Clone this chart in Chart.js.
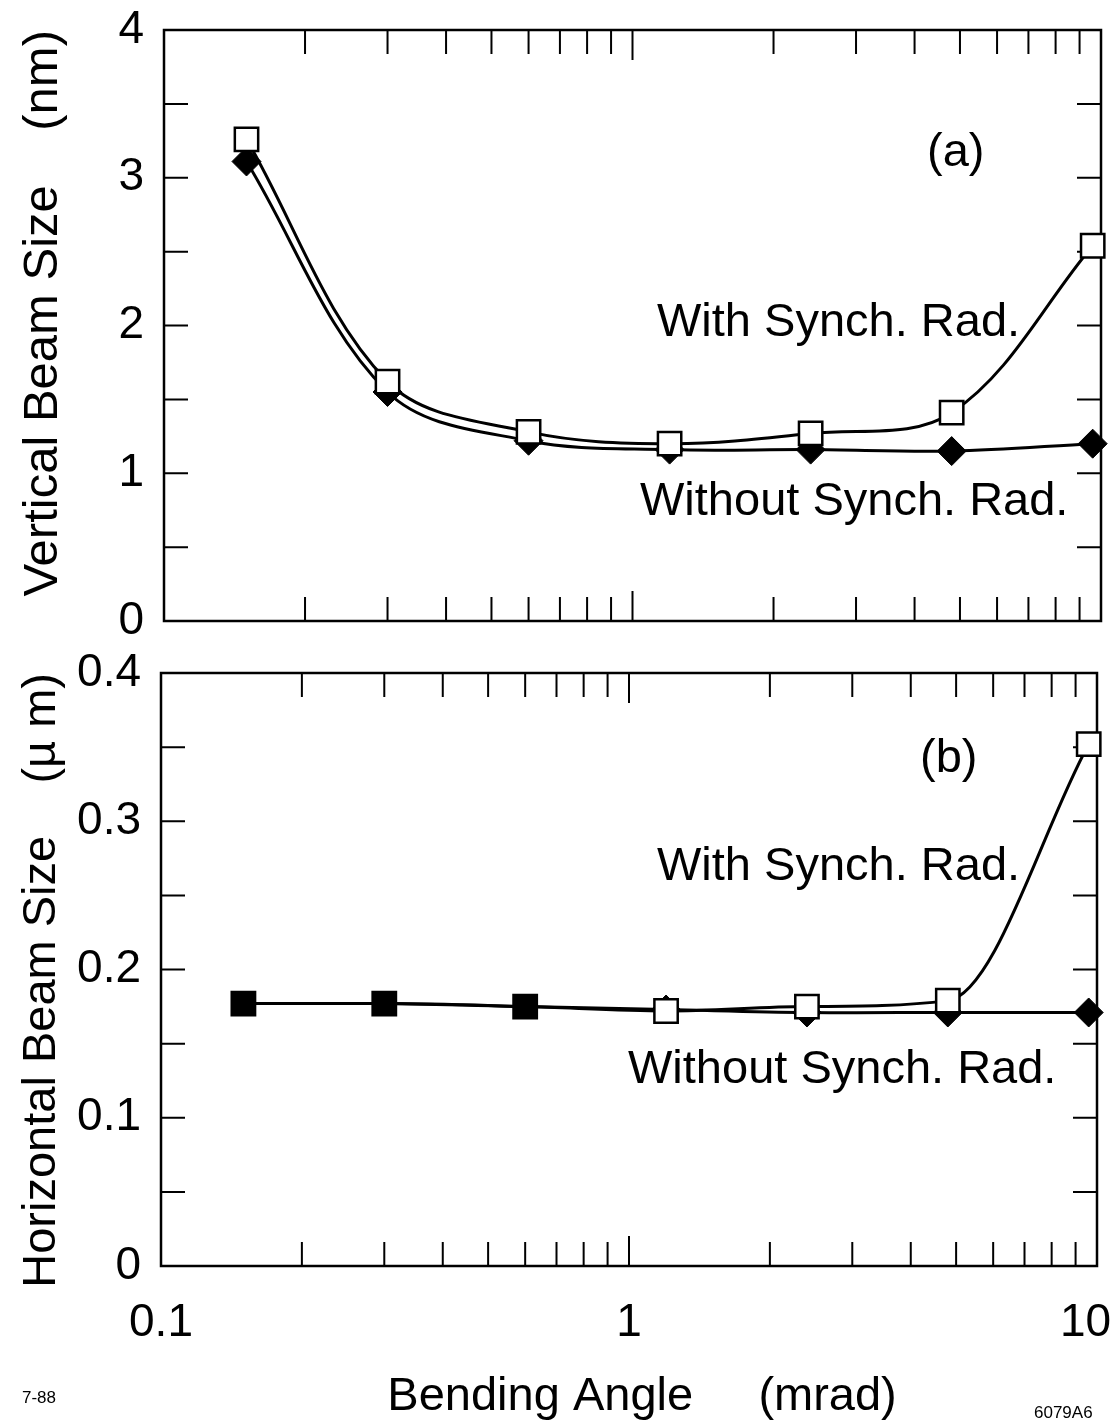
<!DOCTYPE html>
<html>
<head>
<meta charset="utf-8">
<script src="https://cdn.jsdelivr.net/npm/chart.js@4.4.1/dist/chart.umd.min.js"></script>
<style>
  html, body { margin: 0; padding: 0; background: #fff; }
  #wrap { position: relative; width: 1113px; height: 1425px; }
  canvas { position: absolute; left: 0; top: 0; }
</style>
</head>
<body>
<div id="wrap">
  <canvas id="chartA" width="1113" height="1425"></canvas>
  <canvas id="chartB" width="1113" height="1425"></canvas>
</div>
<script>
// Data
const bendingAngle  = [0.15, 0.3, 0.6, 1.2, 2.4, 4.8, 9.6];          // mrad
const vertWithSR    = [3.26, 1.62, 1.28, 1.20, 1.27, 1.41, 2.54];     // nm
const vertWithoutSR = [3.11, 1.55, 1.22, 1.16, 1.16, 1.15, 1.20];     // nm
const horzWithSR    = [0.177, 0.177, 0.175, 0.172, 0.175, 0.179, 0.352]; // um
const horzWithoutSR = [0.177, 0.177, 0.175, 0.173, 0.171, 0.171, 0.171]; // um

// Tick marks / labels
const xTickLabels = [0.1, 1, 10];
const xTickMarks  = [0.2, 0.3, 0.4, 0.5, 0.6, 0.7, 0.8, 0.9, 1, 2, 3, 4, 5, 6, 7, 8, 9];
const yTicksA     = [0.5, 1, 1.5, 2, 2.5, 3, 3.5];
const yTicksB     = [0.05, 0.1, 0.15, 0.2, 0.25, 0.3, 0.35];

const FONT = '"Liberation Sans", Arial, Helvetica, sans-serif';

// box with inward ticks on all four sides + free text
const framePlugin = {
  id: 'frame',
  beforeDatasetsDraw(chart, args, opts) {
    const { ctx, chartArea: a } = chart;
    const x = chart.scales.x, y = chart.scales.y;
    ctx.save();
    ctx.strokeStyle = '#000';
    ctx.lineWidth = 2.5;
    ctx.strokeRect(a.left, a.top, a.right - a.left, a.bottom - a.top);
    ctx.lineWidth = 2;
    ctx.beginPath();
    opts.yTicks.forEach(v => {
      const py = y.getPixelForValue(v);
      ctx.moveTo(a.left, py); ctx.lineTo(a.left + 24, py);
      ctx.moveTo(a.right, py); ctx.lineTo(a.right - 24, py);
    });
    xTickMarks.forEach(v => {
      const px = x.getPixelForValue(v);
      const len = v === 1 ? 30 : 24;
      ctx.moveTo(px, a.top); ctx.lineTo(px, a.top + len);
      ctx.moveTo(px, a.bottom); ctx.lineTo(px, a.bottom - len);
    });
    ctx.stroke();
    ctx.restore();
  },
  afterDraw(chart, args, opts) {
    const ctx = chart.ctx;
    ctx.save();
    ctx.fillStyle = '#000';
    ctx.textBaseline = 'alphabetic';
    ctx.textAlign = 'left';
    (opts.notes || []).forEach(n => {
      ctx.font = n.size + 'px ' + FONT;
      ctx.fillText(n.text, n.x, n.y);
    });
    ctx.restore();
  }
};

function makeOptions(cfg) {
  return {
    responsive: false,
    animation: false,
    devicePixelRatio: 1,
    events: [],
    layout: { padding: cfg.padding, autoPadding: false },
    plugins: {
      legend: { display: false },
      tooltip: { enabled: false },
      frame: { yTicks: cfg.yTicks, notes: cfg.notes }
    },
    scales: {
      x: {
        type: 'logarithmic',
        min: 0.1,
        max: 10,
        grid: { display: false, drawTicks: false },
        border: { display: false },
        ticks: {
          display: cfg.showX,
          autoSkip: false,
          maxRotation: 0,
          padding: 30,
          color: '#000',
          font: { family: FONT, size: 46 },
          // last label pulled in a little so it stays on the page
          callback: v => xTickLabels.includes(v) ? (v === 10 ? '10\u2002' : String(v)) : ''
        },
        title: {
          display: cfg.showX,
          text: '  Bending Angle     (mrad)',
          color: '#000',
          font: { family: FONT, size: 47 },
          padding: { top: 0, bottom: 0 }
        },
        afterFit: s => {
          s.height = cfg.xHeight;
          s.paddingLeft = 0;
          s.paddingRight = 0;
        }
      },
      y: {
        min: 0,
        max: cfg.yMax,
        grid: { display: false, drawTicks: false },
        border: { display: false },
        ticks: {
          stepSize: cfg.yStep,
          padding: 20,
          color: '#000',
          font: { family: FONT, size: 46 },
          callback: v => String(Number(v.toFixed(2)))
        },
        title: {
          display: true,
          text: cfg.yTitle,
          align: 'end',
          color: '#000',
          font: { family: FONT, size: cfg.yTitleSize },
          padding: { top: 14, bottom: 0 }
        },
        afterFit: s => {
          s.width = cfg.yWidth;
          s.paddingTop = 0;
          s.paddingBottom = 0;
        }
      }
    }
  };
}

function withSet(values, fills, mode) {
  return {
    label: 'With Synch. Rad.',
    data: values.map((v, i) => ({ x: bendingAngle[i], y: v })),
    borderColor: '#000',
    borderWidth: 3,
    tension: 0.35,
    cubicInterpolationMode: mode,
    pointStyle: 'rect',
    pointRadius: 16.5,
    pointBorderWidth: 2.5,
    pointBorderColor: '#000',
    pointBackgroundColor: fills,
    clip: false
  };
}

function withoutSet(values, radii) {
  return {
    label: 'Without Synch. Rad.',
    data: values.map((v, i) => ({ x: bendingAngle[i], y: v })),
    borderColor: '#000',
    borderWidth: 3,
    tension: 0.35,
    pointStyle: 'rectRot',
    pointRadius: radii,
    pointBorderWidth: 1,
    pointBorderColor: '#000',
    pointBackgroundColor: '#000',
    clip: false
  };
}

// (a) vertical beam size
new Chart(document.getElementById('chartA'), {
  type: 'line',
  data: {
    datasets: [
      withSet(vertWithSR, '#fff', 'default'),
      withoutSet(vertWithoutSR, 14.5)
    ]
  },
  options: makeOptions({
    padding: { left: 0, top: 30, right: 12, bottom: 1425 - 621 },
    yWidth: 164,
    xHeight: 0,
    showX: false,
    yMax: 4,
    yStep: 1,
    yTicks: yTicksA,
    yTitle: 'Vertical Beam Size    (nm)',
    yTitleSize: 49,
    notes: [
      { text: '(a)', x: 927, y: 166, size: 47 },
      { text: 'With Synch. Rad.', x: 657, y: 336, size: 47 },
      { text: 'Without Synch. Rad.', x: 640, y: 515, size: 47 }
    ]
  }),
  plugins: [framePlugin]
});

// (b) horizontal beam size
new Chart(document.getElementById('chartB'), {
  type: 'line',
  data: {
    datasets: [
      withSet(horzWithSR, ['#000', '#000', '#000', '#fff', '#fff', '#fff', '#fff'], 'monotone'),
      withoutSet(horzWithoutSR, [0, 0, 0, 14.5, 14.5, 14.5, 14.5])
    ]
  },
  options: makeOptions({
    padding: { left: 0, top: 673, right: 16, bottom: 0 },
    yWidth: 161,
    xHeight: 1425 - 1266,
    showX: true,
    yMax: 0.4,
    yStep: 0.1,
    yTicks: yTicksB,
    yTitle: 'Horizontal Beam Size    (\u00b5 m)',
    yTitleSize: 47,
    notes: [
      { text: '(b)', x: 920, y: 772, size: 47 },
      { text: 'With Synch. Rad.', x: 657, y: 880, size: 47 },
      { text: 'Without Synch. Rad.', x: 628, y: 1083, size: 47 },
      { text: '7-88', x: 22, y: 1403, size: 17 },
      { text: '6079A6', x: 1034, y: 1418, size: 17 }
    ]
  }),
  plugins: [framePlugin]
});
</script>
</body>
</html>
